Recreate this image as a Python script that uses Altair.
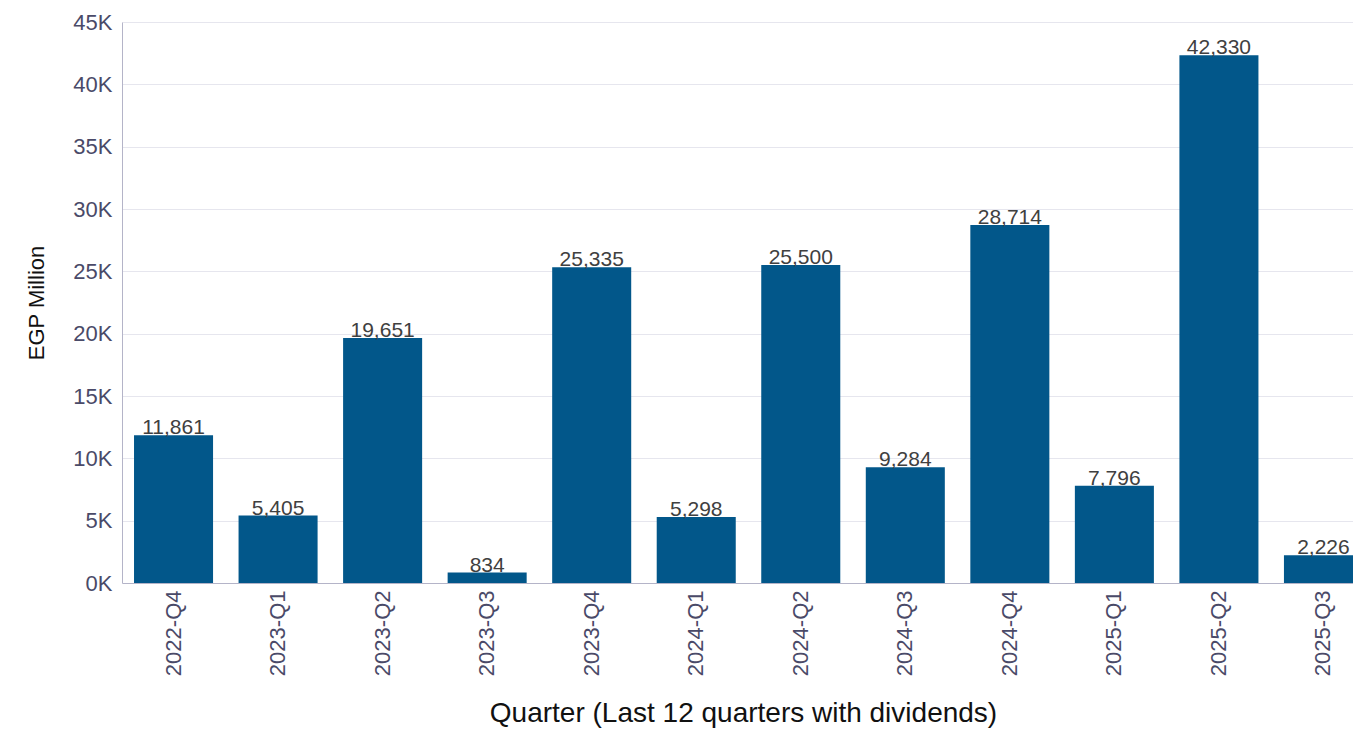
import altair as alt
import pandas as pd

quarters = ["2022-Q4", "2023-Q1", "2023-Q2", "2023-Q3", "2023-Q4", "2024-Q1",
            "2024-Q2", "2024-Q3", "2024-Q4", "2025-Q1", "2025-Q2", "2025-Q3"]
values = [11861, 5405, 19651, 834, 25335, 5298, 25500, 9284, 28714, 7796, 42330, 2226]

df = pd.DataFrame({"quarter": quarters, "value": values})

base = alt.Chart(df).encode(
    x=alt.X("quarter:N", sort=quarters,
            title="Quarter (Last 12 quarters with dividends)",
            scale=alt.Scale(paddingInner=0.244, paddingOuter=0.115, range=[0, 1253]),
            axis=alt.Axis(labelAngle=-90, labelFontSize=22, labelColor="#4a4a68",
                          labelFont="Liberation Sans", labelPadding=7,
                          titleFont="Liberation Sans", titleFontSize=28,
                          titleFontWeight="normal", titleColor="#111111", titlePadding=24,
                          titleX=621, ticks=False, domain=False, grid=False)),
    y=alt.Y("value:Q", title="EGP Million",
            scale=alt.Scale(domain=[0, 45000], nice=False),
            axis=alt.Axis(values=list(range(0, 45001, 5000)),
                          labelExpr="datum.value/1000 + 'K'",
                          labelFontSize=22, labelColor="#4a4a68", labelFont="Liberation Sans",
                          labelPadding=10, ticks=False, domainColor="#b4b4c8",
                          gridColor=alt.condition("datum.value === 0",
                                                  alt.value("#b4b4c8"), alt.value("#e6e6ee")),
                          titleFont="Liberation Sans", titleFontSize=22,
                          titleFontWeight="normal", titleColor="#111111", titlePadding=24)),
)

bars = base.mark_bar(color="#02578a", clip=True)
labels = base.mark_text(baseline="alphabetic", dy=-1, fontSize=21, font="Liberation Sans",
                        color="#404040").encode(text=alt.Text("value:Q", format=","))

chart = (bars + labels).properties(
    width=1231, height=561,
    autosize=alt.AutoSizeParams(type="none"),
    padding={"left": 114, "top": 14, "right": 0, "bottom": 145},
).configure_view(stroke=None)

chart.save("out.html", embed_options={"renderer": "svg", "actions": False})
